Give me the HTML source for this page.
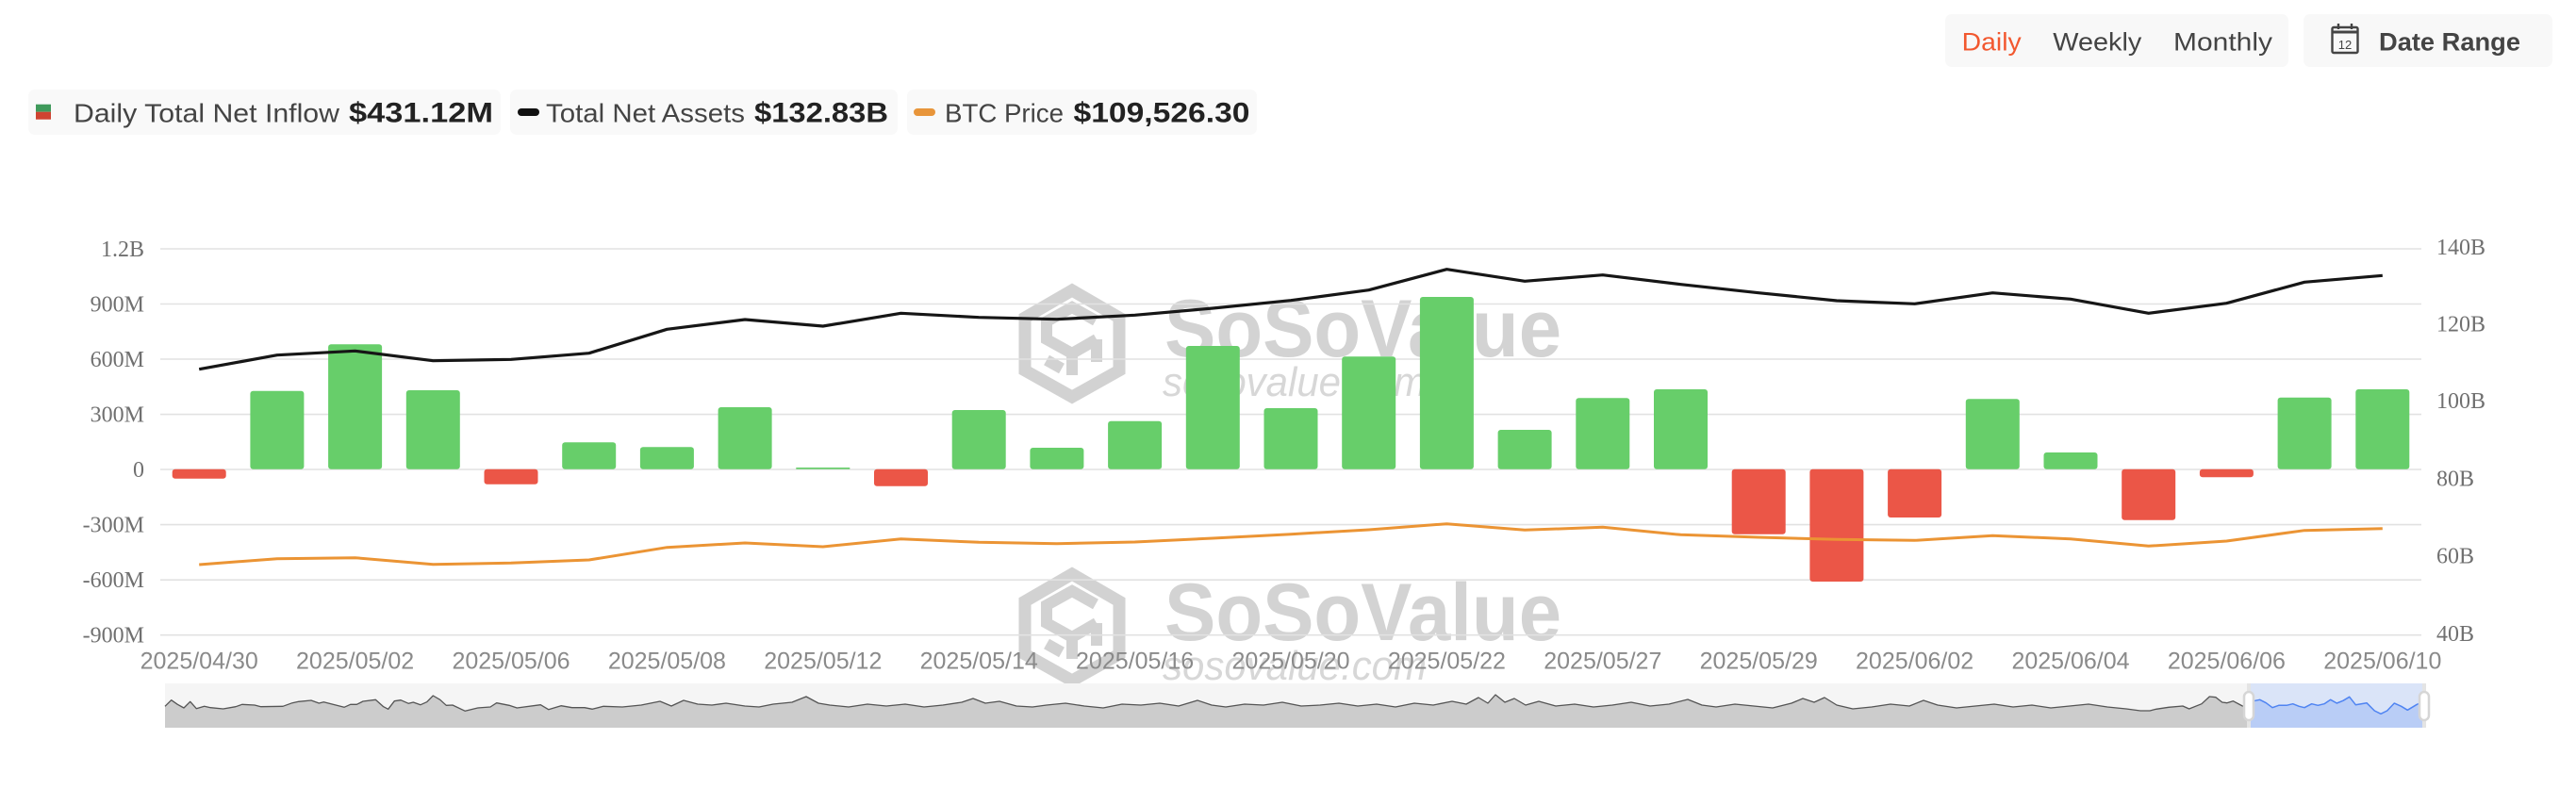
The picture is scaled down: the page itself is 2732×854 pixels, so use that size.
<!DOCTYPE html>
<html>
<head>
<meta charset="utf-8">
<style>
html,body{margin:0;padding:0;background:#fff;}
svg{display:block;}
</style>
</head>
<body>
<svg width="2732" height="854" viewBox="0 0 2732 854" xmlns="http://www.w3.org/2000/svg">
  <!-- Legend -->
  <rect x="30" y="95" width="501" height="48" rx="7" fill="#f9f9f9"/>
  <rect x="38" y="110.7" width="16" height="8" fill="#3f9a5b"/>
  <rect x="38" y="118.7" width="16" height="8" fill="#cf4431"/>
  <text x="78" y="129.5" font-family="Liberation Sans, sans-serif" font-size="28" fill="#444" textLength="282" lengthAdjust="spacingAndGlyphs">Daily Total Net Inflow</text>
  <text x="370" y="129.5" font-family="Liberation Sans, sans-serif" font-size="30" font-weight="bold" fill="#222" textLength="153" lengthAdjust="spacingAndGlyphs">$431.12M</text>

  <rect x="541" y="95" width="411" height="48" rx="7" fill="#f9f9f9"/>
  <rect x="549" y="115" width="23" height="8" rx="4" fill="#111"/>
  <text x="579" y="129.5" font-family="Liberation Sans, sans-serif" font-size="28" fill="#444" textLength="211" lengthAdjust="spacingAndGlyphs">Total Net Assets</text>
  <text x="800" y="129.5" font-family="Liberation Sans, sans-serif" font-size="30" font-weight="bold" fill="#222" textLength="142" lengthAdjust="spacingAndGlyphs">$132.83B</text>

  <rect x="962" y="95" width="371" height="48" rx="7" fill="#f9f9f9"/>
  <rect x="969" y="115" width="23" height="8" rx="4" fill="#e8953a"/>
  <text x="1002" y="129.5" font-family="Liberation Sans, sans-serif" font-size="28" fill="#444" textLength="126" lengthAdjust="spacingAndGlyphs">BTC Price</text>
  <text x="1138.5" y="129.5" font-family="Liberation Sans, sans-serif" font-size="30" font-weight="bold" fill="#222" textLength="187" lengthAdjust="spacingAndGlyphs">$109,526.30</text>

  <!-- Top right controls -->
  <rect x="2063" y="15" width="364" height="56" rx="7" fill="#f8f8f8"/>
  <text x="2080.7" y="53.3" font-family="Liberation Sans, sans-serif" font-size="27" fill="#f2582f" textLength="63" lengthAdjust="spacingAndGlyphs">Daily</text>
  <text x="2177.3" y="53.3" font-family="Liberation Sans, sans-serif" font-size="27" fill="#444" textLength="94" lengthAdjust="spacingAndGlyphs">Weekly</text>
  <text x="2305" y="53.3" font-family="Liberation Sans, sans-serif" font-size="27" fill="#444" textLength="105" lengthAdjust="spacingAndGlyphs">Monthly</text>

  <rect x="2443" y="15" width="264" height="56" rx="7" fill="#f8f8f8"/>
  <g stroke="#444" fill="none" stroke-width="2.4">
    <rect x="2473.5" y="29" width="27" height="27" rx="1.5"/>
    <line x1="2473.5" y1="34" x2="2500.5" y2="34" stroke-width="3"/>
    <line x1="2480" y1="25" x2="2480" y2="31"/>
    <line x1="2494" y1="25" x2="2494" y2="31"/>
  </g>
  <text x="2487" y="52" font-family="Liberation Sans, sans-serif" font-size="13" fill="#444" text-anchor="middle">12</text>
  <text x="2523" y="53.3" font-family="Liberation Sans, sans-serif" font-size="27" font-weight="bold" fill="#444" textLength="150" lengthAdjust="spacingAndGlyphs">Date Range</text>

  <!-- Watermarks -->
  <g id="wm">
    <polygon points="1137,308 1187,337 1187,393 1137,421 1087,393 1087,337" fill="none" stroke="#d2d2d2" stroke-width="13" stroke-linejoin="miter"/>
    <path d="M1162,340 L1137,326 L1110,341 L1110,360 L1137,375 L1163,360 M1137,375 L1137,398 M1163,360 L1163,384 M1110,382 L1126,391" fill="none" stroke="#d2d2d2" stroke-width="12"/>
    <text x="1235" y="378" font-family="Liberation Sans, sans-serif" font-size="86" font-weight="bold" fill="#d3d3d3" textLength="421" lengthAdjust="spacingAndGlyphs">SoSoValue</text>
    <text x="1233" y="420" font-family="Liberation Sans, sans-serif" font-size="44" font-style="italic" fill="#d7d7d7" textLength="280" lengthAdjust="spacingAndGlyphs">sosovalue.com</text>
  </g>
  <g transform="translate(0,301)">
    <polygon points="1137,308 1187,337 1187,393 1137,421 1087,393 1087,337" fill="none" stroke="#d2d2d2" stroke-width="13" stroke-linejoin="miter"/>
    <path d="M1162,340 L1137,326 L1110,341 L1110,360 L1137,375 L1163,360 M1137,375 L1137,398 M1163,360 L1163,384 M1110,382 L1126,391" fill="none" stroke="#d2d2d2" stroke-width="12"/>
    <text x="1235" y="378" font-family="Liberation Sans, sans-serif" font-size="86" font-weight="bold" fill="#d3d3d3" textLength="421" lengthAdjust="spacingAndGlyphs">SoSoValue</text>
    <text x="1233" y="420" font-family="Liberation Sans, sans-serif" font-size="44" font-style="italic" fill="#d7d7d7" textLength="280" lengthAdjust="spacingAndGlyphs">sosovalue.com</text>
  </g>

  <!-- Gridlines -->
  <g stroke="#e2e2e2" stroke-width="1.6">
    <line x1="170" y1="264" x2="2568" y2="264"/>
    <line x1="170" y1="322.5" x2="2568" y2="322.5"/>
    <line x1="170" y1="381" x2="2568" y2="381"/>
    <line x1="170" y1="439.6" x2="2568" y2="439.6"/>
    <line x1="170" y1="498" x2="2568" y2="498"/>
    <line x1="170" y1="556.6" x2="2568" y2="556.6"/>
    <line x1="170" y1="615.2" x2="2568" y2="615.2"/>
    <line x1="170" y1="673.7" x2="2568" y2="673.7"/>
  </g>

  <!-- Left axis labels -->
  <g font-family="Liberation Serif, serif" font-size="24" fill="#707070" text-anchor="end">
    <text x="153" y="272">1.2B</text>
    <text x="153" y="330.5">900M</text>
    <text x="153" y="389">600M</text>
    <text x="153" y="447.6">300M</text>
    <text x="153" y="506">0</text>
    <text x="153" y="564.6">-300M</text>
    <text x="153" y="623.2">-600M</text>
    <text x="153" y="681.7">-900M</text>
  </g>
  <!-- Right axis labels -->
  <g font-family="Liberation Serif, serif" font-size="24" fill="#707070">
    <text x="2584" y="270">140B</text>
    <text x="2584" y="351.5">120B</text>
    <text x="2584" y="433">100B</text>
    <text x="2584" y="515.5">80B</text>
    <text x="2584" y="597.5">60B</text>
    <text x="2584" y="680">40B</text>
  </g>

  <!-- Bars -->
  <g fill="#67ce6a">
    <rect x="265.4" y="414.7" width="57" height="83" rx="3"/>
    <rect x="348.1" y="365.3" width="57" height="132.4" rx="3"/>
    <rect x="430.8" y="414" width="57" height="83.7" rx="3"/>
    <rect x="596.2" y="469.3" width="57" height="28.4" rx="3"/>
    <rect x="678.9" y="474.3" width="57" height="23.4" rx="3"/>
    <rect x="761.6" y="432" width="57" height="65.7" rx="3"/>
    <rect x="844.3" y="496" width="57" height="1.7"/>
    <rect x="1009.7" y="435" width="57" height="62.7" rx="3"/>
    <rect x="1092.4" y="475" width="57" height="22.7" rx="3"/>
    <rect x="1175.1" y="446.7" width="57" height="51" rx="3"/>
    <rect x="1257.8" y="367" width="57" height="130.7" rx="3"/>
    <rect x="1340.5" y="433" width="57" height="64.7" rx="3"/>
    <rect x="1423.2" y="378.3" width="57" height="119.4" rx="3"/>
    <rect x="1505.9" y="315" width="57" height="182.7" rx="3"/>
    <rect x="1588.6" y="456" width="57" height="41.7" rx="3"/>
    <rect x="1671.3" y="422.3" width="57" height="75.4" rx="3"/>
    <rect x="1754" y="413" width="57" height="84.7" rx="3"/>
    <rect x="2084.8" y="423.3" width="57" height="74.4" rx="3"/>
    <rect x="2167.5" y="480" width="57" height="17.7" rx="3"/>
    <rect x="2415.6" y="421.7" width="57" height="76" rx="3"/>
    <rect x="2498.3" y="413" width="57" height="84.7" rx="3"/>
  </g>
  <g fill="#eb5647">
    <rect x="182.7" y="497.7" width="57" height="10" rx="3"/>
    <rect x="513.5" y="497.7" width="57" height="16" rx="3"/>
    <rect x="927" y="497.7" width="57" height="18" rx="3"/>
    <rect x="1836.7" y="497.7" width="57" height="69" rx="3"/>
    <rect x="1919.4" y="497.7" width="57" height="119.3" rx="3"/>
    <rect x="2002.1" y="497.7" width="57" height="51.3" rx="3"/>
    <rect x="2250.2" y="497.7" width="57" height="54" rx="3"/>
    <rect x="2332.9" y="497.7" width="57" height="8.6" rx="3"/>
  </g>

  <!-- Total Net Assets line -->
  <polyline fill="none" stroke="#161616" stroke-width="3.2" stroke-linejoin="round" stroke-linecap="butt"
    points="211.2,391.7 293.9,376.7 376.6,372.3 459.3,382.7 542,381.3 624.7,374.7 707.4,349.3 790.1,339 872.8,346 955.5,332.3 1038.2,336.7 1120.9,338.7 1203.6,334.3 1286.3,327 1369,318.7 1451.7,307.7 1534.4,285.7 1617.1,298.3 1699.8,291.7 1782.5,301.7 1865.2,310.7 1947.9,319 2030.6,322.3 2113.3,310.7 2196,317.3 2278.7,332.3 2361.4,321.7 2444.1,299.3 2526.8,292.3"/>
  <!-- BTC price line -->
  <polyline fill="none" stroke="#eb9434" stroke-width="3" stroke-linejoin="round"
    points="211.2,599 293.9,592.7 376.6,591.7 459.3,598.7 542,597.3 624.7,594 707.4,580.7 790.1,576 872.8,580 955.5,571.7 1038.2,575.3 1120.9,576.7 1203.6,575 1286.3,571 1369,566.7 1451.7,562 1534.4,555.7 1617.1,562.3 1699.8,559.3 1782.5,567.3 1865.2,570 1947.9,572.3 2030.6,573.3 2113.3,568.3 2196,571.7 2278.7,579.3 2361.4,574 2444.1,562.7 2526.8,560.7"/>

  <!-- X axis labels -->
  <g font-family="Liberation Sans, sans-serif" font-size="25" fill="#8a8a8a" text-anchor="middle">
    <text x="211.2" y="709.5">2025/04/30</text>
    <text x="376.6" y="709.5">2025/05/02</text>
    <text x="542" y="709.5">2025/05/06</text>
    <text x="707.4" y="709.5">2025/05/08</text>
    <text x="872.8" y="709.5">2025/05/12</text>
    <text x="1038.2" y="709.5">2025/05/14</text>
    <text x="1203.6" y="709.5">2025/05/16</text>
    <text x="1369" y="709.5">2025/05/20</text>
    <text x="1534.4" y="709.5">2025/05/22</text>
    <text x="1699.8" y="709.5">2025/05/27</text>
    <text x="1865.2" y="709.5">2025/05/29</text>
    <text x="2030.6" y="709.5">2025/06/02</text>
    <text x="2196" y="709.5">2025/06/04</text>
    <text x="2361.4" y="709.5">2025/06/06</text>
    <text x="2526.8" y="709.5">2025/06/10</text>
  </g>

  <!-- Navigator -->
  <rect x="175" y="725" width="2398" height="47" fill="#f5f5f5"/>
  <path fill="#cccccc" d="M175,772 L175,749.3 181.7,742.7 188.3,747.3 195,751 201.7,744.3 208.3,751.7 216.7,749.3 223.3,750.7 236.7,752 250,749.7 256.7,747.3 270,748 276.7,749.7 300,749.3 310,745.7 316.7,744.3 330,743 338.3,746 343.3,744.7 365,750.3 371.7,747.3 378.3,747.3 385,744 398.3,742.3 406.7,749.7 411.7,752.3 418.3,743.7 425,742.7 433.3,746.3 438.3,745 446,747.7 452.7,744.7 459.3,738 466.7,742.3 473.3,748.3 480,748 493.3,754.3 506.7,751 520,750 526.7,745.7 540,748.3 548.3,751 573.3,747.7 581.7,752.7 595,748.7 606.7,750.7 620,750.7 628.3,752.3 640,749.3 660,750 680,748 700,744 712,749 725,743 740,747 755,748 770,746 790,749 805,750 820,747 840,745 855,739 868,746 880,748 900,750 920,747 940,749 960,747 980,750 1000,748 1020,745 1032,741 1045,746 1060,744 1078,749 1095,750 1110,748 1130,746 1150,749 1170,751 1190,747 1210,748 1230,746 1250,749 1270,743 1285,748 1300,750 1320,747 1340,748 1360,745 1380,749 1400,748 1420,746 1440,749 1460,747 1480,750 1500,746 1520,748 1540,744 1555,747 1568,740 1578,746 1586,737 1596,745 1606,741 1618,748 1632,744 1650,749 1670,747 1690,750 1710,748 1730,745 1750,749 1770,747 1790,742 1805,748 1820,750 1840,747 1860,749 1880,751 1900,746 1912,741 1924,745 1935,740 1948,748 1965,752 1985,750 2005,747 2025,749 2040,743 2055,748 2075,751 2095,749 2115,747 2135,750 2155,748 2175,751 2195,749 2215,747 2235,750 2255,752 2270,754 2280,754 2286.7,752.3 2300,750.3 2315,749 2321.7,752 2335,746.7 2343.3,739 2350,739.7 2356.7,745 2361.7,745.7 2368.3,743.7 2378.3,749 2383,750 L2383,772 Z"/>
  <polyline fill="none" stroke="#555" stroke-width="1.3" stroke-linejoin="round" points="175,749.3 181.7,742.7 188.3,747.3 195,751 201.7,744.3 208.3,751.7 216.7,749.3 223.3,750.7 236.7,752 250,749.7 256.7,747.3 270,748 276.7,749.7 300,749.3 310,745.7 316.7,744.3 330,743 338.3,746 343.3,744.7 365,750.3 371.7,747.3 378.3,747.3 385,744 398.3,742.3 406.7,749.7 411.7,752.3 418.3,743.7 425,742.7 433.3,746.3 438.3,745 446,747.7 452.7,744.7 459.3,738 466.7,742.3 473.3,748.3 480,748 493.3,754.3 506.7,751 520,750 526.7,745.7 540,748.3 548.3,751 573.3,747.7 581.7,752.7 595,748.7 606.7,750.7 620,750.7 628.3,752.3 640,749.3 660,750 680,748 700,744 712,749 725,743 740,747 755,748 770,746 790,749 805,750 820,747 840,745 855,739 868,746 880,748 900,750 920,747 940,749 960,747 980,750 1000,748 1020,745 1032,741 1045,746 1060,744 1078,749 1095,750 1110,748 1130,746 1150,749 1170,751 1190,747 1210,748 1230,746 1250,749 1270,743 1285,748 1300,750 1320,747 1340,748 1360,745 1380,749 1400,748 1420,746 1440,749 1460,747 1480,750 1500,746 1520,748 1540,744 1555,747 1568,740 1578,746 1586,737 1596,745 1606,741 1618,748 1632,744 1650,749 1670,747 1690,750 1710,748 1730,745 1750,749 1770,747 1790,742 1805,748 1820,750 1840,747 1860,749 1880,751 1900,746 1912,741 1924,745 1935,740 1948,748 1965,752 1985,750 2005,747 2025,749 2040,743 2055,748 2075,751 2095,749 2115,747 2135,750 2155,748 2175,751 2195,749 2215,747 2235,750 2255,752 2270,754 2280,754 2286.7,752.3 2300,750.3 2315,749 2321.7,752 2335,746.7 2343.3,739 2350,739.7 2356.7,745 2361.7,745.7 2368.3,743.7 2378.3,749 2383,750"/>
  <!-- selected range -->
  <rect x="2387" y="725" width="182" height="47" fill="#dae4f8"/>
  <path fill="#b9cdf6" d="M2387,772 L2387,745 2391.7,743.3 2396.7,742.3 2403.3,745.7 2410,750.7 2416.7,748.3 2425,748.3 2431.7,746.7 2438.3,749.3 2444,750.7 2451.7,746.7 2458.3,748.3 2465,746.7 2471.7,742.3 2478.3,746 2485,743.3 2491.7,739.3 2498.3,747.7 2510,745.7 2518.3,754 2525,757.3 2531.7,754 2539.3,746 2546.7,749.3 2553.3,753.3 2563.3,747.3 2569,745 L2569,772 Z"/>
  <polyline fill="none" stroke="#4f84f2" stroke-width="1.5" stroke-linejoin="round" points="2387,745 2391.7,743.3 2396.7,742.3 2403.3,745.7 2410,750.7 2416.7,748.3 2425,748.3 2431.7,746.7 2438.3,749.3 2444,750.7 2451.7,746.7 2458.3,748.3 2465,746.7 2471.7,742.3 2478.3,746 2485,743.3 2491.7,739.3 2498.3,747.7 2510,745.7 2518.3,754 2525,757.3 2531.7,754 2539.3,746 2546.7,749.3 2553.3,753.3 2563.3,747.3 2569,745"/>
  <rect x="2383" y="725" width="4" height="47" fill="#e4e4e4"/>
  <rect x="2569" y="725" width="4" height="47" fill="#e4e4e4"/>
  <rect x="2380" y="734" width="10" height="30" rx="5" fill="#fff" stroke="#d6d6d6" stroke-width="2.5"/>
  <rect x="2566" y="734" width="10" height="30" rx="5" fill="#fff" stroke="#d6d6d6" stroke-width="2.5"/>
</svg>
</body>
</html>
